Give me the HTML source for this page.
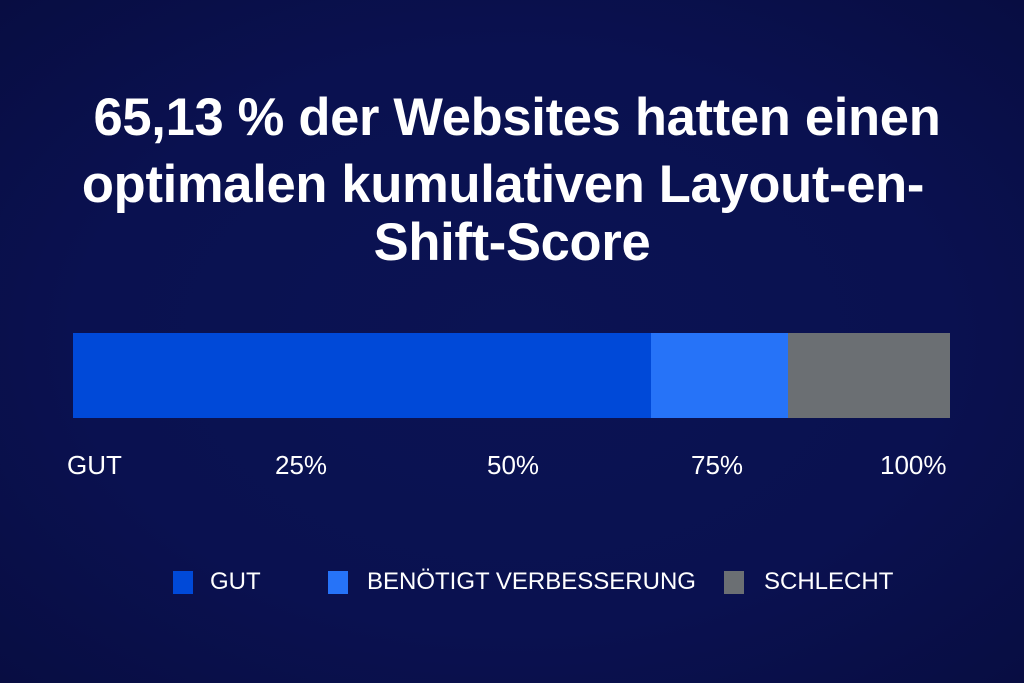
<!DOCTYPE html>
<html><head><meta charset="utf-8"><style>
html,body{margin:0;padding:0}
body{width:1024px;height:683px;overflow:hidden;background:radial-gradient(ellipse at center,#0b1353 0%,#0a1150 60%,#080d42 100%);font-family:"Liberation Sans",sans-serif;color:#fff;position:relative}
.t{position:absolute;left:0;width:1024px;text-align:center;font-weight:bold;font-size:52.5px;line-height:60px;white-space:nowrap;letter-spacing:-0.3px}
.bar{position:absolute;top:333px;height:85px}
.tk{position:absolute;top:450px;font-size:26px;line-height:30px}
.lg{position:absolute;top:571px;width:20px;height:23px}
.lt{position:absolute;top:568px;font-size:24px;line-height:28px}
</style></head><body>
<div class="t" style="top:88px;left:5px">65,13 % der Websites hatten einen</div>
<div class="t" style="top:155px;left:-9px">optimalen kumulativen Layout-en-</div>
<div class="t" style="top:213px;left:0px">Shift-Score</div>
<div class="bar" style="left:73px;width:578px;background:#0049d8"></div>
<div class="bar" style="left:651px;width:137px;background:#2673f8"></div>
<div class="bar" style="left:788px;width:162px;background:#6b6f73"></div>
<div class="tk" style="left:67px">GUT</div>
<div class="tk" style="left:275px">25%</div>
<div class="tk" style="left:487px">50%</div>
<div class="tk" style="left:691px">75%</div>
<div class="tk" style="left:880px">100%</div>
<div class="lg" style="left:173px;background:#0049d8"></div><div class="lt" style="left:210px">GUT</div>
<div class="lg" style="left:328px;background:#2673f8"></div><div class="lt" style="left:367px">BENÖTIGT VERBESSERUNG</div>
<div class="lg" style="left:724px;background:#6b6f73"></div><div class="lt" style="left:764px">SCHLECHT</div>
</body></html>
